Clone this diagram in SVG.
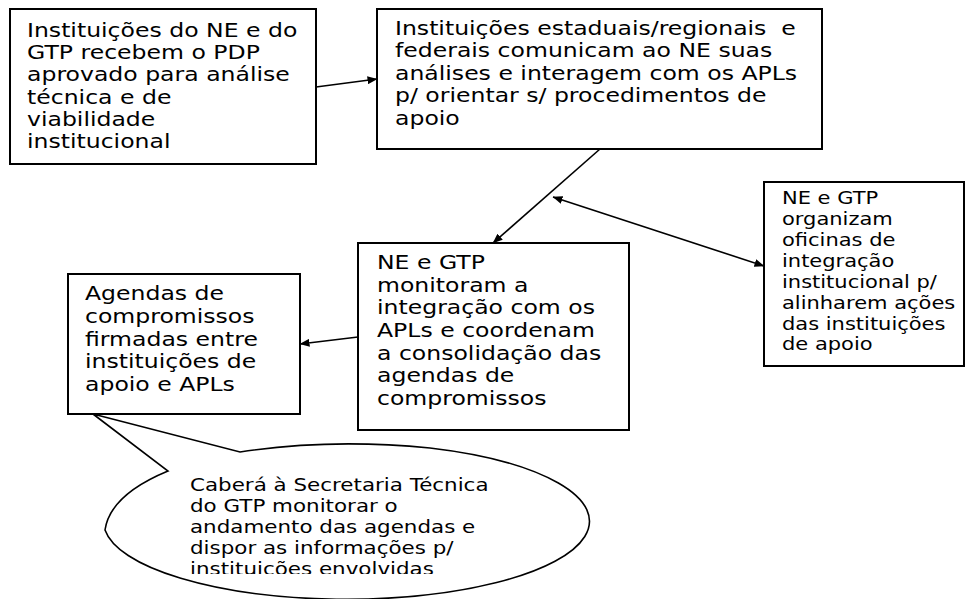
<svg xmlns="http://www.w3.org/2000/svg" width="966" height="599" viewBox="0 0 966 599">
<defs>
<style>
.box{fill:#fff;stroke:#000;stroke-width:2}
.t{font-family:"DejaVu Sans",Verdana,sans-serif;font-size:19px;fill:#000;white-space:pre}
.t5{font-family:"DejaVu Sans",Verdana,sans-serif;font-size:17.5px;fill:#000}
.s{font-family:"DejaVu Sans",Verdana,sans-serif;font-size:17px;fill:#000}
.c{fill:none;stroke:#000;stroke-width:1.6}
</style>
<marker id="ah" markerWidth="10" markerHeight="8" refX="9.5" refY="4" orient="auto-start-reverse" markerUnits="userSpaceOnUse" viewBox="0 0 10 8">
<path d="M0,0 L10,4 L0,8 Z" fill="#000"/>
</marker>
<clipPath id="clipc"><rect x="0" y="0" width="966" height="574"/></clipPath>
</defs>
<rect width="966" height="599" fill="#fff"/>

<g id="callout">
<path d="M93,414 L240,452 Q330,438 430,448 A243,78 0 1 1 105,530 Q110,495 168,471 Z" fill="#fff" stroke="#000" stroke-width="1.6"/>
<g clip-path="url(#clipc)">
<g transform="translate(190,0) scale(1.26,1)">
<text class="s"><tspan x="0" y="491">Caberá à Secretaria Técnica</tspan><tspan x="0" y="512">do GTP monitorar o</tspan><tspan x="0" y="533">andamento das agendas e</tspan><tspan x="0" y="554">dispor as informações p/</tspan><tspan x="0" y="575">instituições envolvidas</tspan></text>
</g>
</g>
</g>

<g id="n1">
<rect class="box" x="10" y="9" width="306" height="155"/>
<g transform="translate(27,0) scale(1.24,1)">
<text class="t"><tspan x="0" y="37">Instituições do NE e do</tspan><tspan x="0" y="59">GTP recebem o PDP</tspan><tspan x="0" y="81">aprovado para análise</tspan><tspan x="0" y="104">técnica e de</tspan><tspan x="0" y="126">viabilidade</tspan><tspan x="0" y="148">institucional</tspan></text>
</g>
</g>

<g id="n2">
<rect class="box" x="377" y="9" width="445" height="140"/>
<g transform="translate(395,0) scale(1.24,1)">
<text class="t"><tspan x="0" y="35">Instituições estaduais/regionais  e</tspan><tspan x="0" y="57">federais comunicam ao NE suas</tspan><tspan x="0" y="80">análises e interagem com os APLs</tspan><tspan x="0" y="102">p/ orientar s/ procedimentos de</tspan><tspan x="0" y="125">apoio</tspan></text>
</g>
</g>

<g id="n3">
<rect class="box" x="358" y="243" width="271" height="187"/>
<g transform="translate(377,0) scale(1.24,1)">
<text class="t"><tspan x="0" y="269">NE e GTP</tspan><tspan x="0" y="292">monitoram a</tspan><tspan x="0" y="314">integração com os</tspan><tspan x="0" y="337">APLs e coordenam</tspan><tspan x="0" y="360">a consolidação das</tspan><tspan x="0" y="382">agendas de</tspan><tspan x="0" y="405">compromissos</tspan></text>
</g>
</g>

<g id="n4">
<rect class="box" x="68" y="274" width="232" height="140"/>
<g transform="translate(85,0) scale(1.24,1)">
<text class="t"><tspan x="0" y="300">Agendas de</tspan><tspan x="0" y="323">compromissos</tspan><tspan x="0" y="346">firmadas entre</tspan><tspan x="0" y="368">instituições de</tspan><tspan x="0" y="391">apoio e APLs</tspan></text>
</g>
</g>

<g id="n5">
<rect class="box" x="764" y="182" width="200" height="184"/>
<g transform="translate(782,0) scale(1.2,1)">
<text class="t5"><tspan x="0" y="204">NE e GTP</tspan><tspan x="0" y="225">organizam</tspan><tspan x="0" y="246">oficinas de</tspan><tspan x="0" y="267">integração</tspan><tspan x="0" y="288">institucional p/</tspan><tspan x="0" y="309">alinharem ações</tspan><tspan x="0" y="330">das instituições</tspan><tspan x="0" y="350">de apoio</tspan></text>
</g>
</g>

<g id="connectors">
<line class="c" x1="316" y1="87" x2="377" y2="79" marker-end="url(#ah)"/>
<line class="c" x1="600" y1="149" x2="493" y2="243" marker-end="url(#ah)"/>
<line class="c" x1="553" y1="197" x2="764" y2="266" marker-start="url(#ah)" marker-end="url(#ah)"/>
<line class="c" x1="358" y1="337" x2="300" y2="344" marker-end="url(#ah)"/>
</g>
</svg>
